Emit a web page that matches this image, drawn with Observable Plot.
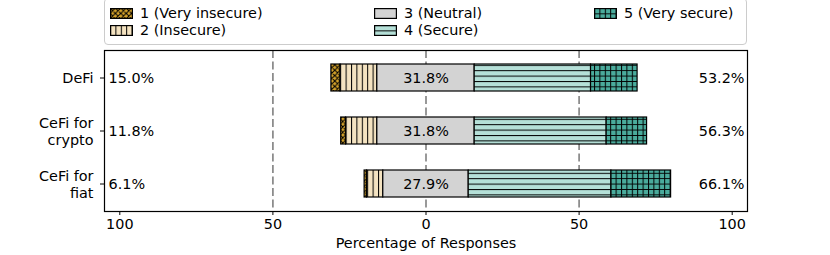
<!DOCTYPE html>
<html>
<head>
<meta charset="utf-8">
<script src="https://cdn.jsdelivr.net/npm/d3@7"></script>
<script src="https://cdn.jsdelivr.net/npm/@observablehq/plot@0.6"></script>
<style>
  html, body { margin: 0; padding: 0; background: white; }
  #wrap { position: relative; width: 830px; height: 255px; font-family: "DejaVu Sans", sans-serif; font-size: 14.4px; color: black; overflow: hidden; }
  #legend { position: absolute; left: 104px; top: -2px; width: 643px; height: 47px; border: 1px solid #cccccc; border-radius: 4px; background: white; box-sizing: border-box; z-index: 2; }
  .item { position: absolute; display: flex; align-items: center; white-space: nowrap; line-height: 17px; }
  .item svg { margin-right: 7px; }
</style>
</head>
<body>
<svg id="defs" width="0" height="0" style="position:absolute">
  <defs>
    <pattern id="pVI" patternUnits="userSpaceOnUse" width="5.4" height="5.4">
      <rect width="5.4" height="5.4" fill="#D4A22A"/>
      <path d="M0,0L5.4,5.4M5.4,0L0,5.4M-1,1L1,-1M4.4,6.4L6.4,4.4" stroke="black" stroke-width="1.1"/>
    </pattern>
    <pattern id="pI" patternUnits="userSpaceOnUse" width="5.4" height="5.4">
      <rect width="5.4" height="5.4" fill="#F4E3C1"/>
      <path d="M0.5,0V5.4" stroke="black" stroke-width="1"/>
    </pattern>
    <pattern id="pN" patternUnits="userSpaceOnUse" width="5.4" height="5.4">
      <rect width="5.4" height="5.4" fill="#D3D3D3"/>
    </pattern>
    <pattern id="pS" patternUnits="userSpaceOnUse" width="5.4" height="5.4">
      <rect width="5.4" height="5.4" fill="#B5E0D8"/>
      <path d="M0,0.5H5.4" stroke="black" stroke-width="1"/>
    </pattern>
    <pattern id="pVS" patternUnits="userSpaceOnUse" width="5.4" height="5.4">
      <rect width="5.4" height="5.4" fill="#4AAB9C"/>
      <path d="M0,0.5H5.4M0.5,0V5.4" stroke="black" stroke-width="1"/>
    </pattern>
  </defs>
</svg>
<div id="wrap">
  <div id="legend"></div>
  <div id="chart"></div>
</div>
<script>
// ---- data ----
const categories = ["DeFi", "CeFi for crypto", "CeFi for fiat"];
const categoryLabels = ["DeFi", "CeFi for\ncrypto", "CeFi for\nfiat"];
const levels = ["1 (Very insecure)", "2 (Insecure)", "3 (Neutral)", "4 (Secure)", "5 (Very secure)"];
const veryInsecure = [3.0, 1.6, 0.8];
const insecure = [12.0, 10.2, 5.3];
const neutral = [31.8, 31.8, 27.9];
const secure = [38.0, 43.1, 46.6];
const verySecure = [15.2, 13.2, 19.5];
const xTicks = [-100, -50, 0, 50, 100];
const gridValues = [-50, 0, 50];
const patterns = ["url(#pVI)", "url(#pI)", "url(#pN)", "url(#pS)", "url(#pVS)"];

// ---- build segments (neutral centred on 0) ----
const series = [veryInsecure, insecure, neutral, secure, verySecure];
const segments = [];
const summary = [];
categories.forEach((cat, i) => {
  let x = -neutral[i] / 2 - insecure[i] - veryInsecure[i];
  series.forEach((s, k) => {
    segments.push({cat, level: levels[k], k, x1: x, x2: x + s[i]});
    x += s[i];
  });
  summary.push({
    cat,
    label: categoryLabels[i],
    neg: (veryInsecure[i] + insecure[i]).toFixed(1) + "%",
    neu: neutral[i].toFixed(1) + "%",
    pos: (secure[i] + verySecure[i]).toFixed(1) + "%"
  });
});

const barMarks = levels.map((lv, k) =>
  Plot.barX(segments.filter(d => d.k === k), {
    x1: "x1", x2: "x2", y: "cat",
    fill: patterns[k], stroke: "black", strokeWidth: 1.2
  })
);

const FS = 14.4;
const chart = Plot.plot({
  width: 830,
  height: 255,
  marginLeft: 104,
  marginRight: 83,
  marginTop: 50,
  marginBottom: 44,
  style: {fontFamily: "DejaVu Sans, sans-serif", fontSize: FS + "px", background: "transparent", color: "black"},
  x: {domain: [-105, 105], ticks: xTicks, tickFormat: d => Math.abs(d), tickSize: 4, tickPadding: 3, label: null},
  y: {domain: categories, paddingInner: 0.5, paddingOuter: 0.25, tickSize: 4, tickFormat: () => "", label: null},
  marks: [
    Plot.ruleX(gridValues, {stroke: "#808080", strokeWidth: 1.6, strokeDasharray: "8,3.5"}),
    ...barMarks,
    Plot.text(summary, {y: "cat", x: 0, text: "neu", fill: "black", fontSize: FS}),
    Plot.text(summary, {y: "cat", frameAnchor: "left", dx: 4, textAnchor: "start", text: "neg", fill: "black", fontSize: FS}),
    Plot.text(summary, {y: "cat", frameAnchor: "right", dx: -3, textAnchor: "end", text: "pos", fill: "black", fontSize: FS}),
    Plot.text(summary, {y: "cat", frameAnchor: "left", dx: -11, textAnchor: "end", text: "label", lineHeight: 1.17, fill: "black", fontSize: FS}),
    Plot.text(["Percentage of Responses"], {frameAnchor: "bottom", dy: 36, fill: "black", fontSize: FS}),
    Plot.frame({stroke: "black", strokeWidth: 1.2})
  ]
});
document.getElementById("chart").appendChild(chart);

// ---- legend ----
const legend = document.getElementById("legend");
const positions = [
  {left: 5, top: 6}, {left: 5, top: 23},
  {left: 269, top: 6}, {left: 269, top: 23},
  {left: 489, top: 6}
];
levels.forEach((lv, k) => {
  const div = document.createElement("div");
  div.className = "item";
  div.style.left = positions[k].left + "px";
  div.style.top = positions[k].top + "px";
  div.innerHTML = `<svg width="23" height="11"><rect x="0.6" y="0.6" width="21.8" height="9.8" fill="${patterns[k]}" stroke="black" stroke-width="1.2"/></svg><span>${lv}</span>`;
  legend.appendChild(div);
});
</script>
</body>
</html>
